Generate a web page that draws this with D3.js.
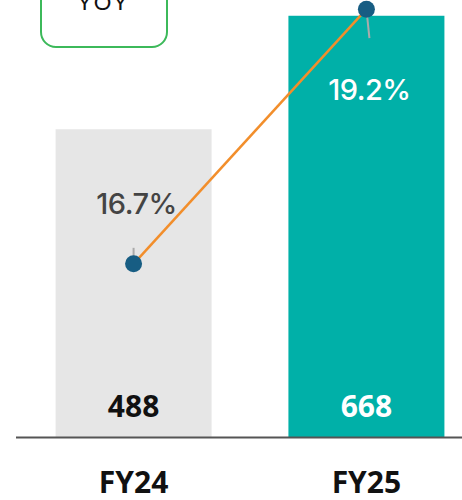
<!DOCTYPE html>
<html>
<head>
<meta charset="utf-8">
<script src="https://cdn.jsdelivr.net/npm/d3@7"></script>
<style>
  body { margin: 0; background: #fff; }
  svg { display: block; }
</style>
</head>
<body>
<div id="chart"></div>
<script>
var categories = ["FY24", "FY25"];
var revenue = [488, 668];
var yoyPct = [16.7, 19.2];
var barColors = ["#e6e6e6", "#00b0a8"];

var width = 462,
    height = 500,
    baseY = 437;

var svg = d3.select("#chart")
    .append("svg")
    .attr("width", width)
    .attr("height", height);

var xScale = d3.scaleBand()
    .domain(categories)
    .range([16, 484])
    .paddingInner(0.33)
    .paddingOuter(0.17);

var yScale = d3.scaleLinear()
    .domain([0, 693])
    .range([baseY, 0]);

var pctScale = d3.scaleLinear()
    .domain([15, 19.29])
    .range([baseY, 0]);

// YOY legend box, clipped by the top edge
svg.append("rect")
    .attr("x", 41)
    .attr("y", -30)
    .attr("width", 126)
    .attr("height", 77)
    .attr("rx", 15)
    .attr("fill", "#fff")
    .attr("stroke", "#3cb95a")
    .attr("stroke-width", 2);

svg.append("text")
    .attr("x", 104)
    .attr("y", 10)
    .attr("text-anchor", "middle")
    .attr("font-family", "Lato, 'Noto Sans', sans-serif")
    .attr("font-size", 22)
    .attr("letter-spacing", 3)
    .attr("fill", "#111")
    .text("YOY");

svg.selectAll("rect.bar")
    .data(revenue)
    .enter()
    .append("rect")
    .attr("class", "bar")
    .attr("x", function(d, i) { return xScale(categories[i]); })
    .attr("width", xScale.bandwidth())
    .attr("y", function(d) { return yScale(d); })
    .attr("height", function(d) { return baseY - yScale(d); })
    .attr("fill", function(d, i) { return barColors[i]; });

svg.append("line")
    .attr("x1", 16)
    .attr("x2", width)
    .attr("y1", baseY + 0.5)
    .attr("y2", baseY + 0.5)
    .attr("stroke", "#555")
    .attr("stroke-width", 2);

// value labels inside bars
svg.selectAll("text.value")
    .data(revenue)
    .enter()
    .append("text")
    .attr("class", "value")
    .attr("x", function(d, i) { return xScale(categories[i]) + xScale.bandwidth() / 2; })
    .attr("y", 417)
    .attr("text-anchor", "middle")
    .attr("font-family", "'Open Sans', 'Noto Sans', sans-serif")
    .attr("font-weight", "bold")
    .attr("font-size", 30)
    .attr("fill", function(d, i) { return i === 0 ? "#111" : "#fff"; })
    .text(function(d) { return d; });

// category labels
svg.selectAll("text.cat")
    .data(categories)
    .enter()
    .append("text")
    .attr("class", "cat")
    .attr("x", function(d) { return xScale(d) + xScale.bandwidth() / 2; })
    .attr("y", 493)
    .attr("text-anchor", "middle")
    .attr("font-family", "'Open Sans', 'Noto Sans', sans-serif")
    .attr("font-weight", "bold")
    .attr("font-size", 30)
    .attr("fill", "#111")
    .text(function(d) { return d; });

// YOY line
var cx = function(d, i) { return xScale(categories[i]) + xScale.bandwidth() / 2; };

var line = d3.line()
    .x(function(d, i) { return cx(d, i); })
    .y(function(d) { return pctScale(d); });

svg.append("path")
    .datum(yoyPct)
    .attr("d", line)
    .attr("fill", "none")
    .attr("stroke", "#f28e2b")
    .attr("stroke-width", 2.5);

// leader lines
svg.append("line")
    .attr("x1", cx(yoyPct[0], 0)).attr("x2", cx(yoyPct[0], 0))
    .attr("y1", pctScale(yoyPct[0]) - 16).attr("y2", pctScale(yoyPct[0]))
    .attr("stroke", "#aaa").attr("stroke-width", 2);

svg.append("line")
    .attr("x1", cx(yoyPct[1], 1)).attr("x2", cx(yoyPct[1], 1) + 3)
    .attr("y1", pctScale(yoyPct[1])).attr("y2", pctScale(yoyPct[1]) + 29)
    .attr("stroke", "#aaa").attr("stroke-width", 2);

svg.selectAll("circle.dot")
    .data(yoyPct)
    .enter()
    .append("circle")
    .attr("class", "dot")
    .attr("cx", cx)
    .attr("cy", function(d) { return pctScale(d); })
    .attr("r", 8.5)
    .attr("fill", "#175d83");

// percentage labels
svg.selectAll("text.pct")
    .data(yoyPct)
    .enter()
    .append("text")
    .attr("class", "pct")
    .attr("x", function(d, i) { return cx(d, i) + 3; })
    .attr("y", function(d, i) { return i === 0 ? 214 : 100; })
    .attr("text-anchor", "middle")
    .attr("font-family", "Inter, 'Noto Sans', sans-serif")
    .attr("font-weight", 500)
    .attr("font-size", 29)
    .attr("letter-spacing", -0.5)
    .attr("fill", function(d, i) { return i === 0 ? "#444" : "#fff"; })
    .text(function(d) { return d.toFixed(1) + "%"; });
</script>
</body>
</html>
